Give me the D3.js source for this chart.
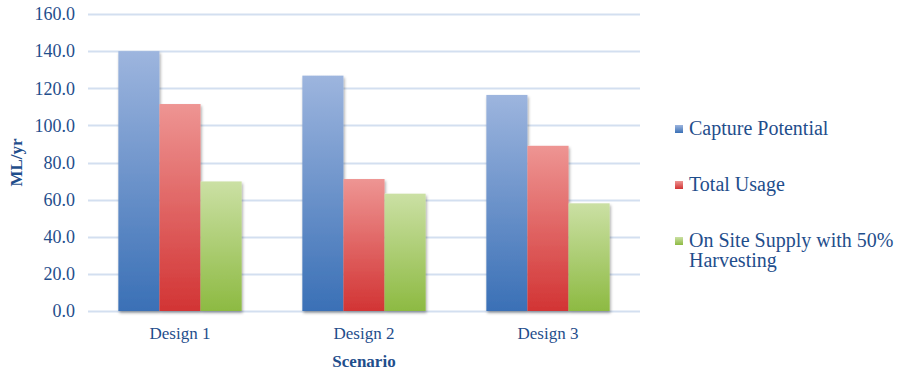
<!DOCTYPE html>
<html><head><meta charset="utf-8">
<script src="https://cdn.jsdelivr.net/npm/d3@7/dist/d3.min.js"></script>
<style>body{margin:0;background:#fff}svg{display:block}</style>
</head><body>
<script>
const categories = ["Design 1", "Design 2", "Design 3"];
const seriesNames = ["Capture Potential", "Total Usage", "On Site Supply with 50% Harvesting"];
const capturePotential = [140.0, 126.8, 116.4];
const totalUsage = [111.5, 71.1, 89.0];
const onSiteSupply = [69.8, 63.2, 58.0];
const yTicks = [0, 20, 40, 60, 80, 100, 120, 140, 160];

const W = 898, H = 374;
const m = {left: 88, right: 258, top: 14, bottom: 63};
const textCol = "#1f4e8c";
const FONT = "Liberation Serif";
const svg = d3.select("body").append("svg").attr("width", W).attr("height", H).attr("font-family", FONT);

const defs = svg.append("defs");
const grads = [["#9db5de", "#3a70b6"], ["#ee9593", "#d23434"], ["#cbe0a4", "#8dba42"]];
grads.forEach((g, i) => {
  const lg = defs.append("linearGradient").attr("id", "g" + i).attr("x1", 0).attr("y1", 0).attr("x2", 0).attr("y2", 1);
  lg.append("stop").attr("offset", "0%").attr("stop-color", g[0]);
  lg.append("stop").attr("offset", "100%").attr("stop-color", g[1]);
});
const f = defs.append("filter").attr("id", "sh").attr("x", "-10%").attr("y", "-10%").attr("width", "130%").attr("height", "130%");
f.append("feDropShadow").attr("dx", 1).attr("dy", 2).attr("stdDeviation", 1.5).attr("flood-color", "#000").attr("flood-opacity", 0.35);

const x = d3.scaleBand().domain(categories).range([m.left, W - m.right]).paddingInner(0.33).paddingOuter(0.165);
const xs = d3.scaleBand().domain(seriesNames).range([0, x.bandwidth()]);
const y = d3.scaleLinear().domain([0, 160]).range([H - m.bottom, m.top]);

// grid
svg.append("g").selectAll("line").data(yTicks).join("line")
  .attr("x1", m.left).attr("x2", W - m.right)
  .attr("y1", d => Math.round(y(d)) + 0.5).attr("y2", d => Math.round(y(d)) + 0.5)
  .attr("stroke", "#d3dff0").attr("stroke-width", 2);

// y tick labels
const yAxis = svg.append("g").attr("transform", `translate(${m.left},0)`)
  .call(d3.axisLeft(y).tickValues(yTicks).tickFormat(d3.format(".1f")).tickSize(0).tickPadding(13));
yAxis.select(".domain").remove();
yAxis.attr("font-family", FONT).attr("font-size", 18);
yAxis.selectAll("text").attr("fill", textCol).attr("font-family", FONT).attr("font-size", 18);

const data = [capturePotential, totalUsage, onSiteSupply];
const groups = svg.append("g").selectAll("g").data(categories).join("g")
  .attr("transform", d => `translate(${x(d)},0)`).attr("filter", "url(#sh)");
groups.selectAll("rect").data((c, ci) => seriesNames.map((s, si) => ({s, si, v: data[si][ci]}))).join("rect")
  .attr("x", d => xs(d.s)).attr("width", xs.bandwidth())
  .attr("y", d => y(d.v)).attr("height", d => y(0) - y(d.v))
  .attr("fill", d => `url(#g${d.si})`);

// x axis labels
const xAxis = svg.append("g").attr("transform", `translate(0,${y(0)})`)
  .call(d3.axisBottom(x).tickSize(0).tickPadding(16));
xAxis.select(".domain").remove();
xAxis.attr("font-family", FONT).attr("font-size", 17);
xAxis.selectAll("text").attr("fill", textCol).attr("font-family", FONT).attr("font-size", 17);

svg.append("text").attr("x", (m.left + W - m.right) / 2).attr("y", 367).attr("text-anchor", "middle")
  .attr("fill", textCol).attr("font-family", FONT).attr("font-size", 17).attr("font-weight", "bold").text("Scenario");
svg.append("text").attr("transform", `translate(22,${(m.top + H - m.bottom) / 2}) rotate(-90)`).attr("text-anchor", "middle")
  .attr("fill", textCol).attr("font-family", FONT).attr("font-size", 17).attr("font-weight", "bold").text("ML/yr");

// legend
const legY = [129, 185, 241];
const leg = svg.append("g").selectAll("g").data(seriesNames).join("g")
  .attr("transform", (d, i) => `translate(675,${legY[i]})`);
leg.append("rect").attr("x", 0).attr("y", -4).attr("width", 8).attr("height", 8).attr("fill", (d, i) => `url(#g${i})`);
leg.append("text").attr("x", 14).attr("y", 6).attr("fill", textCol).attr("font-family", FONT).attr("font-size", 20)
  .each(function(d) {
    const t = d3.select(this);
    const lines = d === seriesNames[2] ? ["On Site Supply with 50%", "Harvesting"] : [d];
    lines.forEach((l, k) => t.append("tspan").attr("x", 14).attr("dy", k ? 20 : 0).attr("font-family", FONT).text(l));
  });
</script>
</body></html>
